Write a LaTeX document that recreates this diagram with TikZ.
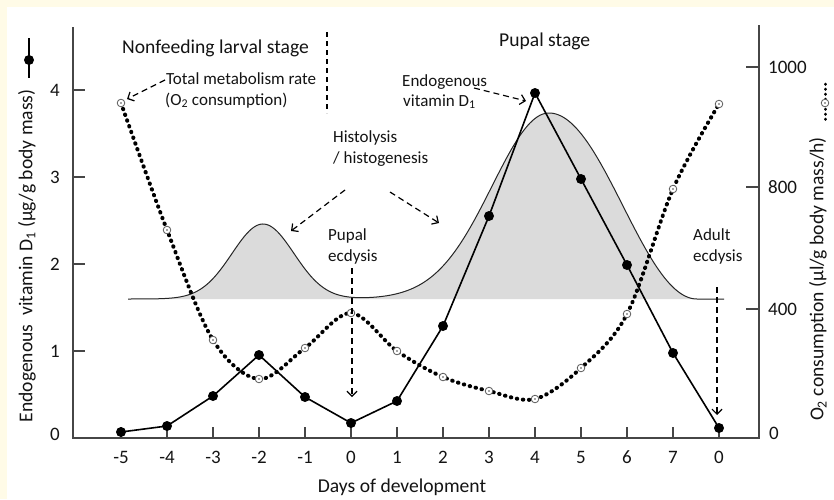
\documentclass[tikz,border=0pt]{standalone}
\usepackage{fontspec}
\setmainfont{Carlito}
\usetikzlibrary{arrows.meta}
\definecolor{cream}{RGB}{255,251,231}
\definecolor{axisgray}{RGB}{70,70,70}
\begin{document}
\begin{tikzpicture}[x=1pt,y=-1pt,
  axisline/.style={draw=axisgray,line width=1.1pt},
  big/.style={font=\fontsize{19.6}{23}\selectfont, inner sep=0pt, text=black!92},
  small/.style={font=\fontsize{17}{21}\selectfont, inner sep=0pt, text=black!92},
  ticklab/.style={font=\fontsize{19}{22}\selectfont, inner sep=0pt, text=black!92},
  dasharrow/.style={line width=1.2pt, dash pattern=on 6pt off 4pt, -{Straight Barb[length=5pt,width=10pt,line width=1.2pt]}},
  sepline/.style={line width=1.2pt, dash pattern=on 5pt off 4pt},
  vitline/.style={line width=1.6pt},
  o2line/.style={line width=4pt, dash pattern=on 0.5pt off 5.6pt, line cap=round, draw=black},
  o2dot/.style={fill=white, draw=black!65, line width=0.8pt},
  histcurve/.style={line width=1pt, draw=black!85},
  histfill/.style={fill=black!14},
]
\fill[cream] (0,0) rectangle (834,499);
\fill[white] (7,7) rectangle (834,499);
\useasboundingbox (0,0) rectangle (834,499);

% histolysis / histogenesis curve
\def\histpath{plot[domain=128:549,samples=220] (\x,{299-75*exp(-0.5*((\x-263)/31)^2)-186*exp(-0.5*((\x-549)/57)^2)})
  -- plot[domain=549:697,samples=80] (\x,{299-93*(1+cos((\x-549)*1.21622))}) -- (724,299)}
\fill[histfill] \histpath -- cycle;
\draw[histcurve] \histpath;

% axes
\coordinate (oL) at (73,438);
\coordinate (tL) at (73,27);
\coordinate (oR) at (759,438);
\coordinate (tR) at (759,25);
\draw[axisline] (tL) -- (oL) -- (oR) -- (tR);

% left ticks
\foreach \v/\yy in {1/351,2/264,3/177,4/90}{
  \draw[axisline] (73,\yy) -- (85,\yy);
  \node[ticklab, anchor=base] (lt\v) at (55,\yy+6) {\v};
}
\node[ticklab, anchor=base] (lt0) at (55,440) {0};
% right ticks
\foreach \v/\yy in {400/309,800/187,1000/67}{
  \draw[axisline] (746,\yy) -- (759,\yy);
  \node[ticklab, anchor=base west] (rt\v) at (768,\yy+6) {\v};
}
\node[ticklab, anchor=base west] (rt0) at (769,439) {0};
% bottom ticks
\foreach \d/\t in {-5/-5,-4/-4,-3/-3,-2/-2,-1/-1,0/0,1/1,2/2,3/3,4/4,5/5,6/6,7/7,8/0}{
  \draw[axisline] ({351+46*\d},427) -- ({351+46*\d},438);
  \node[ticklab, anchor=base] (bt\d) at ({351+46*\d},463) {\t};
}

% data coordinates
\foreach \d/\vv/\oo [count=\i] in {-5/432/103,-4/426/230,-3/396/340,-2/355/379,-1/397/348,0/423/313,1/401/351,2/326/377,3/216/391,4/93/399,5/179/368,6/265/314,7/353/189,8/428/104}{
  \coordinate (v\i) at ({351+46*\d},\vv);
  \coordinate (o\i) at ({351+46*\d},\oo);
}

% O2 consumption curve
\draw[o2line] plot[smooth,tension=0.55] coordinates {(o1)(o2)(o3)(o4)(o5)(o6)(o7)(o8)(o9)(o10)(o11)(o12)(o13)(o14)};
\foreach \i in {1,...,14}{
  \filldraw[o2dot] (o\i) circle (3.8);
  \fill[black!70] (o\i) circle (0.9);
}

% vitamin D1 curve
\draw[vitline] (v1) \foreach \i in {2,...,14}{ -- (v\i)};
\foreach \i in {1,...,14}{ \fill (v\i) circle (5); }

% stage separator
\coordinate (sepA) at (327,32);
\coordinate (sepB) at (327,113);
\draw[sepline] (sepA) -- (sepB);

% texts
\node[big, anchor=base west] (nonfeed) at (122,53) {Nonfeeding larval stage};
\node[big, anchor=base west] (pupst) at (499,46) {Pupal stage};
\node[small, anchor=base west] (tmr1) at (166,84) {Total metabolism rate};
\node[small, anchor=base west] (tmr2) at (165,105) {(O\textsubscript{2} consumption)};
\node[small, anchor=base west] (endo1) at (402,86) {Endogenous};
\node[small, anchor=base west] (endo2) at (403,106) {vitamin D\textsubscript{1}};
\node[small, anchor=base west] (hist1) at (333,142) {Histolysis};
\node[small, anchor=base west] (hist2) at (333,163) {/ histogenesis};
\node[small, anchor=base west] (pupe1) at (328,240) {Pupal};
\node[small, anchor=base west] (pupe2) at (328,261) {ecdysis};
\node[small, anchor=base west] (adu1) at (693,240) {Adult};
\node[small, anchor=base west] (adu2) at (693,261) {ecdysis};
\node[big, anchor=base] (xlab) at (402,492) {Days of development};
\node[big, rotate=90, anchor=mid] (ylabL) at (30,256) {Endogenous\ \ vitamin D\textsubscript{1} (µg/g body mass)};
\node[big, rotate=90, anchor=mid] (ylabR) at (821,279) {O\textsubscript{2} consumption (µl/g body mass/h)};

% legend symbols
\coordinate (lsA) at (29,38);
\coordinate (lsB) at (29,78);
\coordinate (lsC) at (29,60);
\draw[line width=1.4pt] (lsA) -- (lsB);
\fill (lsC) circle (5);
\coordinate (rsA) at (825,84);
\coordinate (rsB) at (825,123);
\coordinate (rsC) at (825,103);
\draw[o2line, line width=3pt, dash pattern=on 0.4pt off 4.6pt] (rsA) -- (rsB);
\filldraw[o2dot] (rsC) circle (3.8);
\fill[black!70] (rsC) circle (0.9);

% dashed arrows
\coordinate (a1s) at (165,80);
\coordinate (a2s) at (474,88);
\coordinate (a2e) at (526,101);
\coordinate (a3s) at (345,190);
\coordinate (a3e) at (291,231);
\coordinate (a4s) at (390,192);
\coordinate (a4e) at (439,223);
\coordinate (a5s) at (352,268);
\coordinate (a5e) at (352,397);
\coordinate (a6s) at (717,287);
\coordinate (a6e) at (717,415);
\draw[dasharrow] (a1s) -- ([shift={(6,-4)}]o1);
\draw[dasharrow] (a2s) -- (a2e);
\draw[dasharrow] (a3s) -- (a3e);
\draw[dasharrow] (a4s) -- (a4e);
\draw[dasharrow] (a5s) -- (a5e);
\draw[dasharrow] (a6s) -- (a6e);
\end{tikzpicture}
\end{document}
